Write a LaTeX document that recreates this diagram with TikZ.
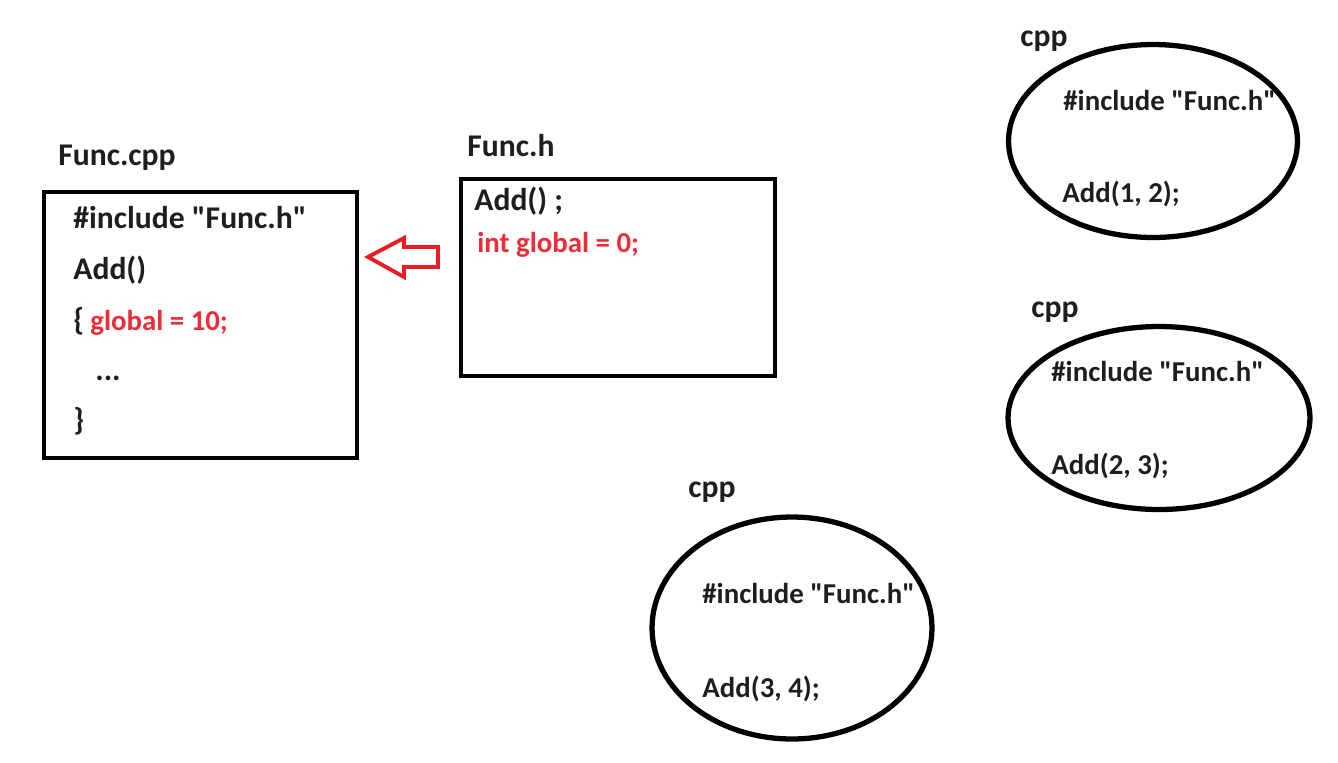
\documentclass[tikz,border=0pt]{standalone}
\usepackage{fontspec}
\setmainfont{Carlito}
\usepackage{xcolor}
\definecolor{inkDark}{HTML}{1E1E1E}
\definecolor{accentRed}{HTML}{ED1C24}
\definecolor{codeRed}{HTML}{EC2D38}
\usetikzlibrary{positioning, shapes.geometric}
\newcommand{\codeBig}{\fontsize{18}{22}\selectfont\bfseries}
\newcommand{\codeSmall}{\fontsize{16.4}{20}\selectfont\bfseries}
\newcommand{\qt}{\textquotedbl}

\begin{document}
\begin{tikzpicture}[x=0.02cm, y=-0.02cm,
    label/.style={anchor=base west, inner sep=0pt, text=inkDark, font=\codeBig},
    line/.style={anchor=base west, inner sep=0pt, text=inkDark, font=\codeBig},
    redline/.style={anchor=base west, inner sep=0pt, text=codeRed, font=\codeSmall},
    cppline/.style={anchor=base west, inner sep=0pt, text=inkDark, font=\codeSmall},
    filebox/.style={draw=black, line width=2.6pt},
    unit/.style={ellipse, draw=black, line width=3pt, inner sep=0pt}]
  \useasboundingbox[fill=white] (0,0) rectangle (1338,762);

  % Func.cpp
  \node[label] (cppname) at (58,165) {Func.cpp};
  \draw[filebox] (44,192) rectangle (357,458);
  \node[line] (cppinc) at (73,228) {\#include \qt Func.h\qt};
  \node[line] (cppadd) at (73,279) {Add()};
  \node[line] (cppopen) at (73,330) {\{};
  \node[redline] (cppset) at (90,330) {global = 10;};
  \node[line] (cppdots) at (95,380) {...};
  \node[line] (cppclose) at (73,430) {\}};

  % include arrow
  \draw[accentRed, line width=2.2pt, line join=miter]
    (368,257) -- (404,238) -- (404,247) -- (438,247)
    -- (438,267) -- (404,267) -- (404,277) -- cycle;

  % Func.h
  \node[label] (hname) at (467,156) {Func.h};
  \draw[filebox] (461,179) rectangle (775,376);
  \node[line] (hadd) at (474,210) {Add() ;};
  \node[redline] (hglobal) at (477,252) {int global = 0;};

  % users of Func.h
  \node[label] (cppA) at (1020,46) {cpp};
  \node[unit, minimum width=5.78cm, minimum height=3.86cm] (unitA) at (1153,141) {};
  \node[cppline] (incA) at (1063,110) {\#include \qt Func.h\qt};
  \node[cppline] (callA) at (1062,202) {Add(1, 2);};

  \node[label] (cppB) at (1031,317) {cpp};
  \node[unit, minimum width=6.04cm, minimum height=3.66cm] (unitB) at (1159,418) {};
  \node[cppline] (incB) at (1051,381) {\#include \qt Func.h\qt};
  \node[cppline] (callB) at (1051,474) {Add(2, 3);};

  \node[label] (cppC) at (688,497) {cpp};
  \node[unit, minimum width=5.6cm, minimum height=4.44cm] (unitC) at (792,628) {};
  \node[cppline] (incC) at (702,603) {\#include \qt Func.h\qt};
  \node[cppline] (callC) at (702,697) {Add(3, 4);};
\end{tikzpicture}
\end{document}
